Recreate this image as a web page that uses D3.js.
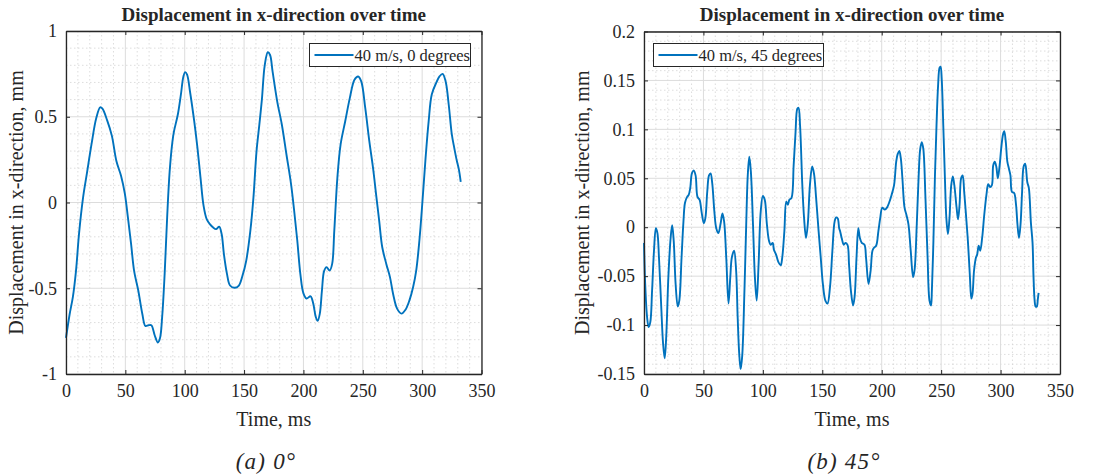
<!DOCTYPE html>
<html>
<head>
<meta charset="utf-8">
<script src="https://cdn.jsdelivr.net/npm/d3@7"></script>
<style>
  html, body { margin: 0; padding: 0; background: #ffffff; }
  svg { display: block; }
  text { font-family: "Liberation Serif", "Times New Roman", serif; fill: #262626; }
</style>
</head>
<body>
<svg id="chart" width="1116" height="476"></svg>
<script>
// ---- data: x-displacement at 40 m/s, 0 degrees ----
const time0 = [0,3.1,5.8,8.4,11,14.4,17.6,21.5,25.4,28.8,30.7,34.6,38.6,42.5,46.4,49.6,52.2,54.8,57.4,60.8,64.3,66.9,69.5,71.9,74.7,77.4,79.2,81,83.1,85.2,87.3,89.7,91,94.2,96.8,98.9,100.4,102,104.6,108,110.7,113.3,115.9,118.5,121.2,123.8,126.4,129,131.1,133,135.6,138.2,142.1,145.6,148.7,151.8,155.3,157.9,160.5,162.8,165,167.4,170,171.9,174,177.9,181.8,185.7,189.6,192.2,194.8,197.4,200,202.6,206,208.3,210.4,212,213.8,215.6,217.4,219.5,222.1,224.2,226,228.6,231.3,235.2,239.1,243,246.1,248.7,252.1,255.5,258.6,261.2,263.8,266.4,269.8,272.9,275.5,278.9,282.6,286,289.3,292.4,295,297.7,300.3,302.9,305.5,308.1,312,314.6,317.2,319.8,322.4,325,327,329,331,332.5];
const disp0 = [-0.79,-0.65,-0.55,-0.40,-0.18,0.03,0.17,0.34,0.49,0.555,0.547,0.48,0.39,0.24,0.155,0.05,-0.09,-0.24,-0.40,-0.51,-0.65,-0.72,-0.716,-0.716,-0.774,-0.816,-0.79,-0.667,-0.416,-0.087,0.18,0.358,0.416,0.513,0.63,0.735,0.76,0.745,0.64,0.474,0.32,0.145,-0.02,-0.097,-0.126,-0.145,-0.155,-0.141,-0.184,-0.30,-0.416,-0.484,-0.497,-0.484,-0.426,-0.34,-0.164,0.03,0.30,0.45,0.60,0.80,0.876,0.86,0.764,0.59,0.455,0.28,0.106,-0.048,-0.22,-0.416,-0.53,-0.56,-0.547,-0.59,-0.667,-0.69,-0.648,-0.513,-0.40,-0.377,-0.397,-0.358,-0.164,0.145,0.338,0.474,0.61,0.716,0.735,0.706,0.55,0.358,0.203,0.048,-0.106,-0.261,-0.358,-0.435,-0.532,-0.619,-0.648,-0.625,-0.571,-0.493,-0.397,-0.22,0.01,0.26,0.474,0.63,0.70,0.735,0.75,0.706,0.57,0.397,0.32,0.25,0.19,0.12];

// ---- data: x-displacement at 40 m/s, 45 degrees ----
const time45 = [0,1,2.6,3.9,5.3,6.8,8.4,10,11.3,12.6,14.5,16,17.4,18.7,20.5,22.4,23.7,25,26.6,28.4,29.7,31.6,33.2,34.5,36.3,37.6,38.9,40.3,41.8,43.4,45,46.8,48.4,50.3,51.6,53.2,54.7,56,57.4,59.2,60.8,62.6,64.5,66,67.4,69.2,71.1,72.6,73.9,75.8,77.5,78.8,80.1,81.3,82.6,84.5,86,87.3,88.6,89.9,91.7,93.3,94.8,96.4,98.2,100,101.6,103.4,105.2,106.7,108.3,109.3,111.1,113.2,115,116.3,118.1,119.7,121,122.3,124.1,125.9,127.5,129,130,131.3,133.2,134.7,136.3,137.8,139.6,141.5,143,144.8,146.9,148.7,150.5,152.6,154.4,156.5,158.5,160.4,161.7,163,164.2,165,166.3,168.1,169.4,171.2,172.5,174.1,175.9,177.2,178.8,180.3,181.6,183.2,185.5,186.8,188.9,190.7,192.2,193.5,195.3,197.2,198.7,200.5,202.6,204.4,206.2,208.3,210.4,212.2,213.5,214.8,216.1,217.4,219.2,220.7,222.5,224.4,226.4,227.7,229.5,231.1,232.4,233.7,235,236.8,238.6,240.2,241.5,242.2,243.5,244.8,246.1,247.4,248.7,249.5,250.5,251.8,253.1,254.4,255.7,257,258.5,259.8,261.1,263,264.2,265.5,266.8,268.1,269.4,270.7,272.5,274.1,275.4,276.4,277.7,279.3,280.3,281.6,282.9,284.5,286.3,288.1,289.6,291.2,292.7,293.8,295.1,296.4,297.7,299.2,300.5,302.1,303.1,304.4,305.7,307,308.3,309.6,311.4,313,314.2,315.5,316.8,318.1,319.4,320.7,322.5,323.8,325.5,326.9,327.7,328.6,329.5,330.5,331.3,332];
const disp45 = [-0.016,-0.058,-0.092,-0.102,-0.097,-0.065,-0.024,-0.001,-0.006,-0.031,-0.081,-0.118,-0.134,-0.112,-0.051,-0.011,0.002,-0.014,-0.058,-0.081,-0.075,-0.031,0.006,0.025,0.031,0.033,0.040,0.055,0.058,0.053,0.031,0.028,0.016,0.004,0.009,0.036,0.053,0.055,0.045,0.016,-0.001,-0.006,0.004,0.014,0.006,-0.031,-0.078,-0.051,-0.031,-0.024,-0.044,-0.092,-0.129,-0.145,-0.132,-0.065,0.003,0.053,0.072,0.057,0.003,-0.051,-0.075,-0.038,0.016,0.032,0.028,0.003,-0.014,-0.018,-0.016,-0.023,-0.028,-0.036,-0.039,-0.031,-0.004,0.026,0.023,0.028,0.030,0.063,0.097,0.121,0.122,0.104,0.043,0.009,-0.011,0.003,0.043,0.062,0.055,0.030,-0.004,-0.031,-0.058,-0.075,-0.078,-0.061,-0.024,0.006,0.010,0.009,-0.001,-0.004,-0.011,-0.018,-0.016,-0.018,-0.038,-0.065,-0.080,-0.071,-0.031,-0.001,-0.011,-0.016,-0.018,-0.031,-0.058,-0.044,-0.024,-0.021,-0.019,-0.004,0.009,0.020,0.018,0.020,0.025,0.033,0.043,0.067,0.075,0.078,0.070,0.050,0.020,0.013,0.003,-0.024,-0.051,-0.043,0.003,0.053,0.080,0.087,0.080,0.030,-0.031,-0.075,-0.080,-0.065,-0.014,0.053,0.104,0.144,0.163,0.164,0.151,0.104,0.053,0.009,-0.007,0.009,0.043,0.052,0.043,0.020,0.008,0.023,0.050,0.053,0.036,0.016,-0.014,-0.048,-0.073,-0.068,-0.044,-0.031,-0.028,-0.019,-0.024,-0.011,0.013,0.033,0.044,0.041,0.043,0.063,0.067,0.062,0.050,0.063,0.080,0.095,0.098,0.087,0.067,0.060,0.053,0.036,0.035,0.023,0.003,-0.011,0.003,0.036,0.062,0.065,0.046,0.040,0.005,-0.016,-0.050,-0.074,-0.081,-0.081,-0.074,-0.067];

// ---- axis ticks ----
const timeTicks = [0, 50, 100, 150, 200, 250, 300, 350];
const yTicks0 = [-1, -0.5, 0, 0.5, 1];
const yTicks45 = [-0.15, -0.1, -0.05, 0, 0.05, 0.1, 0.15, 0.2];

// ---- labels ----
const titleText = "Displacement in x-direction over time";
const xLabelText = "Time, ms";
const yLabelText = "Displacement in x-direction, mm";
const legend0 = "40 m/s, 0 degrees";
const legend45 = "40 m/s, 45 degrees";
const caption0 = "(a) 0°";
const caption45 = "(b) 45°";

const lineColor = "#0072bd";
const svg = d3.select("#chart");

function range(a, b, step) {
  const out = [];
  const n = Math.round((b - a) / step);
  for (let i = 0; i <= n; i++) out.push(+(a + i * step).toFixed(6));
  return out;
}

function drawPanel(cfg) {
  const { left, right, top, bottom } = cfg.box;
  const x = d3.scaleLinear().domain([0, 350]).range([left, right]);
  const y = d3.scaleLinear().domain(cfg.yDomain).range([bottom, top]);
  const g = svg.append("g");

  // minor grid (dotted)
  const xMinor = range(0, 350, 10).filter(v => !timeTicks.includes(v));
  const yMinor = range(cfg.yDomain[0], cfg.yDomain[1], cfg.yMinorStep)
    .filter(v => !cfg.yTicks.some(t => Math.abs(t - v) < 1e-9));
  g.append("g").selectAll("line").data(xMinor).join("line")
    .attr("x1", d => x(d)).attr("x2", d => x(d)).attr("y1", top).attr("y2", bottom)
    .attr("stroke", "#d4d4d4").attr("stroke-width", 0.8).attr("stroke-dasharray", "1.5,2.5");
  g.append("g").selectAll("line").data(yMinor).join("line")
    .attr("y1", d => y(d)).attr("y2", d => y(d)).attr("x1", left).attr("x2", right)
    .attr("stroke", "#d4d4d4").attr("stroke-width", 0.8).attr("stroke-dasharray", "1.5,2.5");

  // major grid
  g.append("g").selectAll("line").data(timeTicks).join("line")
    .attr("x1", d => x(d)).attr("x2", d => x(d)).attr("y1", top).attr("y2", bottom)
    .attr("stroke", "#dcdcdc").attr("stroke-width", 1);
  g.append("g").selectAll("line").data(cfg.yTicks).join("line")
    .attr("y1", d => y(d)).attr("y2", d => y(d)).attr("x1", left).attr("x2", right)
    .attr("stroke", "#dcdcdc").attr("stroke-width", 1);

  // data line
  const pts = cfg.t.map((t, i) => [t, cfg.v[i]]);
  g.append("path").datum(pts)
    .attr("fill", "none").attr("stroke", lineColor).attr("stroke-width", 1.9)
    .attr("stroke-linejoin", "round")
    .attr("d", d3.line().x(d => x(d[0])).y(d => y(d[1])).curve(d3.curveCatmullRom.alpha(0.5)));

  // axes (inward ticks on all four sides)
  const tickLen = 4;
  const axisColor = "#262626";
  const ax = g.append("g").attr("transform", `translate(0,${bottom})`)
    .call(d3.axisBottom(x).tickValues(timeTicks).tickSizeInner(-tickLen).tickSizeOuter(0).tickPadding(10).tickFormat(d3.format("d")));
  const ay = g.append("g").attr("transform", `translate(${left},0)`)
    .call(d3.axisLeft(y).tickValues(cfg.yTicks).tickSizeInner(-tickLen).tickSizeOuter(0).tickPadding(9).tickFormat(d => String(d).replace("−", "-")));
  const axT = g.append("g").attr("transform", `translate(0,${top})`)
    .call(d3.axisTop(x).tickValues(timeTicks).tickSizeInner(-tickLen).tickSizeOuter(0).tickFormat(""));
  const ayR = g.append("g").attr("transform", `translate(${right},0)`)
    .call(d3.axisRight(y).tickValues(cfg.yTicks).tickSizeInner(-tickLen).tickSizeOuter(0).tickFormat(""));
  [ax, ay, axT, ayR].forEach(a => {
    a.selectAll(".domain").attr("stroke", axisColor).attr("stroke-width", 1.3);
    a.selectAll(".tick line").attr("stroke", axisColor).attr("stroke-width", 1);
    a.selectAll(".tick text").attr("font-family", "Liberation Serif").attr("font-size", 18).attr("fill", "#262626");
  });

  // title and axis labels
  const cx = (left + right) / 2;
  g.append("text").attr("x", cx).attr("y", 21).attr("text-anchor", "middle")
    .attr("font-size", 19).attr("font-weight", "bold").attr("fill", "#000").text(titleText);
  g.append("text").attr("x", cx).attr("y", 426).attr("text-anchor", "middle")
    .attr("font-size", 20).text(xLabelText);
  g.append("text").attr("transform", `translate(${cfg.yLabelX},${(top + bottom) / 2}) rotate(-90)`)
    .attr("text-anchor", "middle").attr("font-size", 20).text(yLabelText);

  // legend
  const lg = g.append("g").attr("transform", `translate(${cfg.legend.x},${cfg.legend.y})`);
  lg.append("rect").attr("width", cfg.legend.w).attr("height", 23)
    .attr("fill", "#fff").attr("stroke", "#262626").attr("stroke-width", 1);
  lg.append("line").attr("x1", 5).attr("x2", 44).attr("y1", 11.5).attr("y2", 11.5)
    .attr("stroke", lineColor).attr("stroke-width", 1.9);
  lg.append("text").attr("x", 45).attr("y", 17).attr("font-size", 16.5).attr("fill", "#000").text(cfg.legend.label);

  // caption
  svg.append("text").attr("x", cfg.captionX).attr("y", 469).attr("text-anchor", "middle")
    .attr("font-size", 23).attr("font-style", "italic").attr("letter-spacing", 1.2)
    .attr("fill", "#000").text(cfg.caption);
}

drawPanel({
  box: { left: 66, right: 481.5, top: 31, bottom: 374 },
  yDomain: [-1, 1], yTicks: yTicks0, yMinorStep: 0.1,
  t: time0, v: disp0,
  yLabelX: 23,
  legend: { x: 309.5, y: 43.5, w: 161, label: legend0 },
  caption: caption0, captionX: 266
});

drawPanel({
  box: { left: 644, right: 1060, top: 31.5, bottom: 374 },
  yDomain: [-0.15, 0.2], yTicks: yTicks45, yMinorStep: 0.01,
  t: time45, v: disp45,
  yLabelX: 589,
  legend: { x: 653.5, y: 43.5, w: 170, label: legend45 },
  caption: caption45, captionX: 844
});
</script>
</body>
</html>
